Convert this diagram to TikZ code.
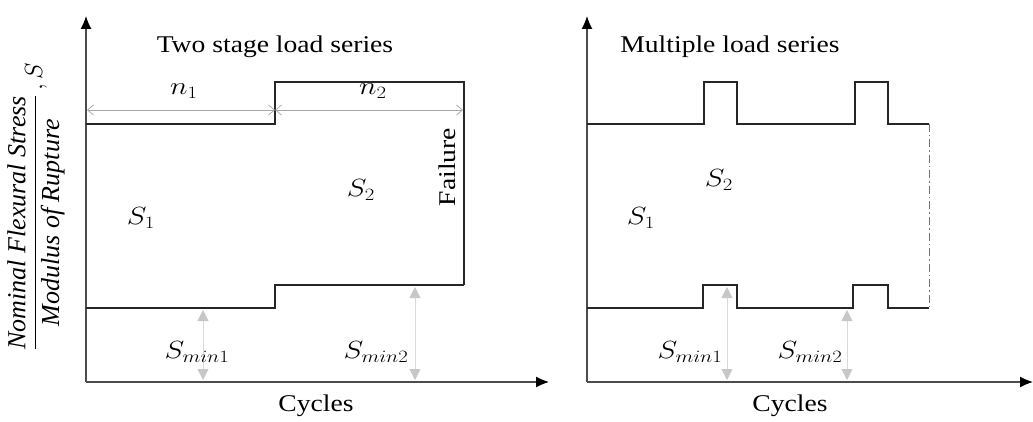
\documentclass[tikz,border=0pt]{standalone}
\usepackage{amsmath}
\usepackage{graphicx}
\usepackage{fontspec}
\setmainfont{Liberation Serif}[FakeStretch=1.15]
\newfontfamily\ylabfont{Liberation Serif}
\usetikzlibrary{arrows.meta}
\newcommand{\wm}[1]{\scalebox{1.2}[1]{$#1$}}
\tikzset{
  axis/.style={line width=1.2pt, draw=black!70, -{Latex[length=13pt,width=11pt,color=black]}},
  load/.style={line width=1.5pt, draw=black!85},
  dim/.style={line width=0.7pt, draw=black!35, {Straight Barb[length=6pt,width=10pt]}-{Straight Barb[length=6pt,width=10pt]}},
  minarr/.style={line width=0.9pt, draw=black!15, {Triangle[length=11pt,width=11pt,fill=black!22,color=black!22]}-{Triangle[length=11pt,width=11pt,fill=black!22,color=black!22]}},
  ttl/.style={font=\fontsize{24}{28}\selectfont},
  lbl/.style={font=\fontsize{27}{30}\selectfont},
}
\begin{document}
\begin{tikzpicture}[x=1pt,y=-1pt]
\useasboundingbox (0,0) rectangle (1033,422);
% ---------- left panel ----------
\coordinate (O1) at (86,382);
\coordinate (Y1) at (86,16);
\coordinate (X1) at (549,382);
\draw[axis] (O1) -- (Y1);
\draw[axis] (O1) -- (X1);
\node[ttl] (t1) at (275,47) {Two stage load series};
% upper envelope
\coordinate (u0) at (86,124);
\coordinate (u1) at (275,124);
\coordinate (u2) at (275,82);
\coordinate (u3) at (464,82);
\coordinate (u4) at (464,285);
\draw[load] (u0) -- (u1) -- (u2) -- (u3) -- (u4);
% lower envelope
\coordinate (l0) at (86,308);
\coordinate (l1) at (275,308);
\coordinate (l2) at (275,285);
\coordinate (l3) at (464,285);
\draw[load] (l0) -- (l1) -- (l2) -- (l3);
% n1 n2 dimension arrows
\coordinate (d0) at (87,110);
\coordinate (d1) at (275,110);
\coordinate (d2) at (463,110);
\draw[dim] (d0) -- (d1);
\draw[dim] (d1) -- (d2);
\node[lbl] (n1) at (184,91) {\wm{n_1}};
\node[lbl] (n2) at (373,91) {\wm{n_2}};
\node[lbl] (s1) at (141,218) {\wm{S_1}};
\node[lbl] (s2) at (361,190) {\wm{S_2}};
\node[ttl, rotate=90] (fail) at (447,167) {Failure};
% Smin arrows
\coordinate (m1a) at (203,310);
\coordinate (m1b) at (203,380);
\coordinate (m2a) at (415,287);
\coordinate (m2b) at (415,380);
\draw[minarr] (m1a) -- (m1b);
\draw[minarr] (m2a) -- (m2b);
\node[lbl] (sm1) at (197,352) {\wm{S_{min1}}};
\node[lbl] (sm2) at (376,352) {\wm{S_{min2}}};
\node[ttl] (c1) at (316,406) {Cycles};
% y label
\node[rotate=90, font=\fontsize{26}{30}\selectfont] (ylab) at (36,207)
  {$\dfrac{\text{\ylabfont\itshape Nominal Flexural Stress}}{\text{\ylabfont\itshape Modulus of Rupture}}\,,S$};
% ---------- right panel ----------
\coordinate (O2) at (587,382);
\coordinate (Y2) at (587,16);
\coordinate (X2) at (1033,382);
\draw[axis] (O2) -- (Y2);
\draw[axis] (O2) -- (X2);
\node[ttl] (t2) at (730,47) {Multiple load series};
\coordinate (r0) at (587,124);
\coordinate (r1) at (704,124);
\coordinate (r2) at (704,82);
\coordinate (r3) at (737,82);
\coordinate (r4) at (737,124);
\coordinate (r5) at (855,124);
\coordinate (r6) at (855,82);
\coordinate (r7) at (888,82);
\coordinate (r8) at (888,124);
\coordinate (r9) at (929,124);
\draw[load] (r0) -- (r1) -- (r2) -- (r3) -- (r4) -- (r5) -- (r6) -- (r7) -- (r8) -- (r9);
\coordinate (q0) at (587,308);
\coordinate (q1) at (703,308);
\coordinate (q2) at (703,285);
\coordinate (q3) at (737,285);
\coordinate (q4) at (737,308);
\coordinate (q5) at (853,308);
\coordinate (q6) at (853,285);
\coordinate (q7) at (888,285);
\coordinate (q8) at (888,308);
\coordinate (q9) at (929,308);
\draw[load] (q0) -- (q1) -- (q2) -- (q3) -- (q4) -- (q5) -- (q6) -- (q7) -- (q8) -- (q9);
\draw[line width=0.8pt, draw=black!55, dash pattern=on 8pt off 3pt on 1.5pt off 3pt] (r9) -- (q9);
\node[lbl] (s1r) at (641,218) {\wm{S_1}};
\node[lbl] (s2r) at (719,180) {\wm{S_2}};
\coordinate (p1a) at (727,287);
\coordinate (p1b) at (727,380);
\coordinate (p2a) at (847,310);
\coordinate (p2b) at (847,380);
\draw[minarr] (p1a) -- (p1b);
\draw[minarr] (p2a) -- (p2b);
\node[lbl] (sm1r) at (690,352) {\wm{S_{min1}}};
\node[lbl] (sm2r) at (810,352) {\wm{S_{min2}}};
\node[ttl] (c2) at (790,406) {Cycles};
\end{tikzpicture}
\end{document}
